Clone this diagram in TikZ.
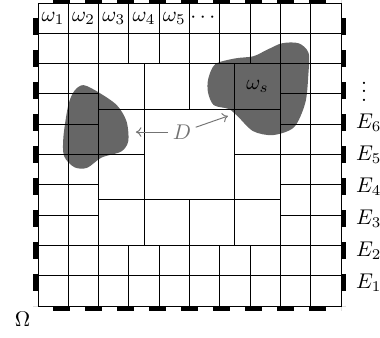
\documentclass[tikz,border=0pt]{standalone}
\usepackage{amsmath,amssymb}
\usepackage{tikz}
\usetikzlibrary{arrows.meta}

\begin{document}
\begin{tikzpicture}[x=0.5cm,y=0.5cm]
  \tikzset{
    cellline/.style={draw=black,line width=0.45pt},
    bnddash/.style={line width=0.09cm,dash pattern=on 0.28cm off 0.248cm,
                    dash phase=0.28cm},
    blob/.style={fill=black!60,draw=none},
    hint/.style={black!55,line width=0.45pt,-{To[length=2.6pt,width=4.5pt]}},
  }
  \useasboundingbox (-1.254,-1.056) rectangle (11.287,10.099);
  % ---- subdomains ----
  \fill[blob] plot[smooth cycle] coordinates {
    (1.50,7.29) (2.0,7.05) (2.6,6.63) (2.92,6.1) (2.98,5.45) (2.75,5.1)
    (2.1,4.9) (1.62,4.56) (1.2,4.58) (0.86,4.95) (0.84,5.6) (1.0,6.63) (1.2,7.1)};
  \fill[blob] plot[smooth cycle] coordinates {
    (5.62,7.5) (5.85,7.98) (6.5,8.17) (7.1,8.24) (7.55,8.45) (8.05,8.67)
    (8.6,8.67) (8.93,8.35) (8.92,7.6) (8.82,6.7) (8.45,5.9) (7.75,5.64)
    (7.1,5.77) (6.6,6.25) (6.3,6.5) (5.8,6.63) (5.61,7.05)};
  % ---- fine ring of cells ----
  \foreach \k in {3,...,7} {
    \draw[cellline] (\k,0) -- (\k,2);
    \draw[cellline] (\k,8) -- (\k,10);
    \draw[cellline] (0,\k) -- (2,\k);
    \draw[cellline] (8,\k) -- (10,\k);
  }
  \foreach \k in {1,2,8,9} {
    \draw[cellline] (\k,0) -- (\k,10);
    \draw[cellline] (0,\k) -- (10,\k);
  }
  % ---- coarse inner cells ----
  \draw[cellline] (3.5,2) -- (3.5,8) (6.5,2) -- (6.5,8)
                  (2,3.5) -- (8,3.5) (2,6.5) -- (8,6.5);
  \draw[cellline] (5,2) -- (5,3.5) (5,6.5) -- (5,8)
                  (2,5) -- (3.5,5) (6.5,5) -- (8,5);
  \draw[cellline] (0,0) rectangle (10,10);
  % ---- boundary edges ----
  \draw[bnddash] (-0.09,10) -- (-0.09,0);
  \draw[bnddash] (10.09,10) -- (10.09,0);
  \draw[bnddash] (0,-0.09) -- (10,-0.09);
  \draw[bnddash] (0,10.09) -- (10,10.09);
  % ---- labels ----
  \foreach \i in {1,...,5}
    \node (w\i) at (\i-0.5,9.5) {$\omega_{\i}$};
  \node (wdots) at (5.5,9.5) {$\cdots$};
  \node (ws) at (7.25,7.25) {$\omega_s$};
  \foreach \i in {1,...,6}
    \node[anchor=west] (E\i) at (10.25,{0.776+(\i-1)*1.056}) {$E_{\i}$};
  \node[anchor=base,inner sep=0pt] (Edots) at (10.76,6.75) {$\vdots$};
  \node (Omega) at (-0.51,-0.43) {$\Omega$};
  % ---- domain D ----
  \node[black!55,inner sep=2pt] (D) at (4.75,5.74) {$D$};
  \coordinate (Dl) at (3.23,5.74);
  \coordinate (Dr) at (6.27,6.27);
  \draw[hint] (D) -- (Dl);
  \draw[hint] (D) -- (Dr);
\end{tikzpicture}
\end{document}
